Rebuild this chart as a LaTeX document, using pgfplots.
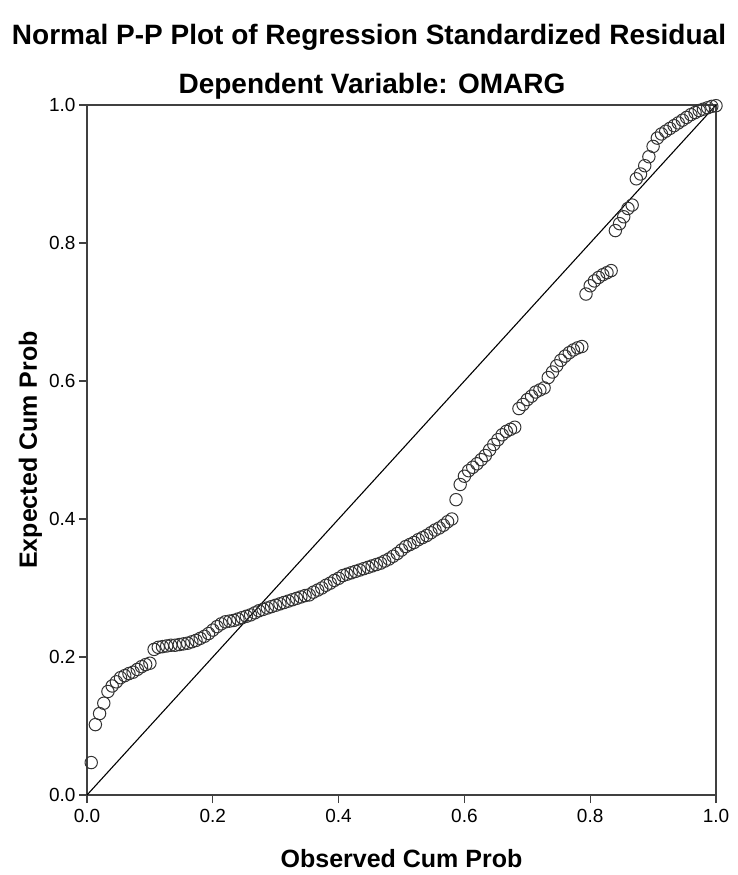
\documentclass[border=0pt]{standalone}
\usepackage{fontspec}
\setmainfont{Liberation Sans}
\usepackage{pgfplots}
\pgfplotsset{compat=1.18}
\usetikzlibrary{calc}

\pgfplotstableread{
x y
0.0067 0.047
0.0133 0.102
0.0200 0.118
0.0267 0.133
0.0333 0.150
0.0400 0.158
0.0467 0.164
0.0533 0.170
0.0600 0.173
0.0667 0.176
0.0733 0.178
0.0800 0.182
0.0867 0.186
0.0933 0.189
0.1000 0.191
0.1067 0.211
0.1133 0.214
0.1200 0.215
0.1267 0.216
0.1333 0.217
0.1400 0.217
0.1467 0.218
0.1533 0.219
0.1600 0.220
0.1667 0.222
0.1733 0.224
0.1800 0.227
0.1867 0.230
0.1933 0.234
0.2000 0.239
0.2067 0.244
0.2133 0.248
0.2200 0.251
0.2267 0.252
0.2333 0.253
0.2400 0.255
0.2467 0.257
0.2533 0.259
0.2600 0.261
0.2667 0.264
0.2733 0.267
0.2800 0.269
0.2867 0.271
0.2933 0.273
0.3000 0.275
0.3067 0.277
0.3133 0.279
0.3200 0.281
0.3267 0.283
0.3333 0.285
0.3400 0.287
0.3467 0.289
0.3533 0.290
0.3600 0.294
0.3667 0.297
0.3733 0.300
0.3800 0.304
0.3867 0.307
0.3933 0.311
0.4000 0.314
0.4067 0.318
0.4133 0.320
0.4200 0.322
0.4267 0.324
0.4333 0.326
0.4400 0.328
0.4467 0.330
0.4533 0.332
0.4600 0.334
0.4667 0.336
0.4733 0.339
0.4800 0.342
0.4867 0.346
0.4933 0.350
0.5000 0.355
0.5067 0.360
0.5133 0.363
0.5200 0.366
0.5267 0.370
0.5333 0.373
0.5400 0.376
0.5467 0.380
0.5533 0.384
0.5600 0.387
0.5667 0.391
0.5733 0.396
0.5800 0.400
0.5867 0.428
0.5933 0.450
0.6000 0.462
0.6067 0.470
0.6133 0.475
0.6200 0.480
0.6267 0.486
0.6333 0.492
0.6400 0.500
0.6467 0.508
0.6533 0.515
0.6600 0.522
0.6667 0.527
0.6733 0.530
0.6800 0.533
0.6867 0.560
0.6933 0.566
0.7000 0.573
0.7067 0.578
0.7133 0.584
0.7200 0.587
0.7267 0.590
0.7333 0.605
0.7400 0.613
0.7467 0.622
0.7533 0.630
0.7600 0.636
0.7667 0.641
0.7733 0.645
0.7800 0.648
0.7867 0.650
0.7933 0.726
0.8000 0.738
0.8067 0.745
0.8133 0.750
0.8200 0.754
0.8267 0.757
0.8333 0.760
0.8400 0.818
0.8467 0.828
0.8533 0.838
0.8600 0.850
0.8667 0.855
0.8733 0.893
0.8800 0.900
0.8867 0.912
0.8933 0.925
0.9000 0.940
0.9067 0.952
0.9133 0.958
0.9200 0.962
0.9267 0.966
0.9333 0.970
0.9400 0.974
0.9467 0.978
0.9533 0.982
0.9600 0.986
0.9667 0.989
0.9733 0.992
0.9800 0.994
0.9867 0.996
0.9933 0.998
1.0000 0.999
}\pptable

\begin{document}
\begin{tikzpicture}
\begin{axis}[
    name=ax,
    scale only axis,
    width=629pt, height=690pt,
    xmin=0, xmax=1, ymin=0, ymax=1,
    xtick={0,0.2,...,1.0}, ytick={0,0.2,...,1.0},
    xtick pos=bottom, ytick pos=left,
    tick align=outside,
    major tick length=8pt,
    tick style={black!75, line width=1.2pt},
    axis line style={black!75, line width=1.4pt},
    /pgf/number format/assume math mode=true,
    /pgf/number format/.cd, fixed, fixed zerofill, precision=1, /pgfplots/.cd,
    tick label style={font=\fontsize{19}{22}\selectfont},
    xticklabel style={yshift=-3pt},
    xlabel={\bfseries Observed Cum Prob},
    ylabel={\bfseries Expected Cum Prob},
    label style={font=\fontsize{25}{29}\selectfont},
    xlabel style={yshift=-20pt},
    ylabel style={yshift=0pt},
    clip=false,
]
\addplot[black, line width=1.1pt, forget plot] coordinates {(0,0) (1,1)};
\addplot[only marks, mark=o, mark size=6.2pt, mark options={black!80, line width=1pt}]
    table[x=x, y=y] {\pptable};
\end{axis}
\node[anchor=base, font=\bfseries\fontsize{28}{32}\selectfont]
    at ($(ax.north west)+(282pt,60pt)$) {Normal P-P Plot of Regression Standardized Residual};
\node[anchor=base, font=\bfseries\fontsize{28}{32}\selectfont]
    at ($(ax.north west)+(285pt,11pt)$) {Dependent Variable: OMARG};
\pgfresetboundingbox
\path ($(ax.south west)+(-87pt,-80pt)$) rectangle ($(ax.north east)+(21pt,105pt)$);
\end{tikzpicture}
\end{document}
